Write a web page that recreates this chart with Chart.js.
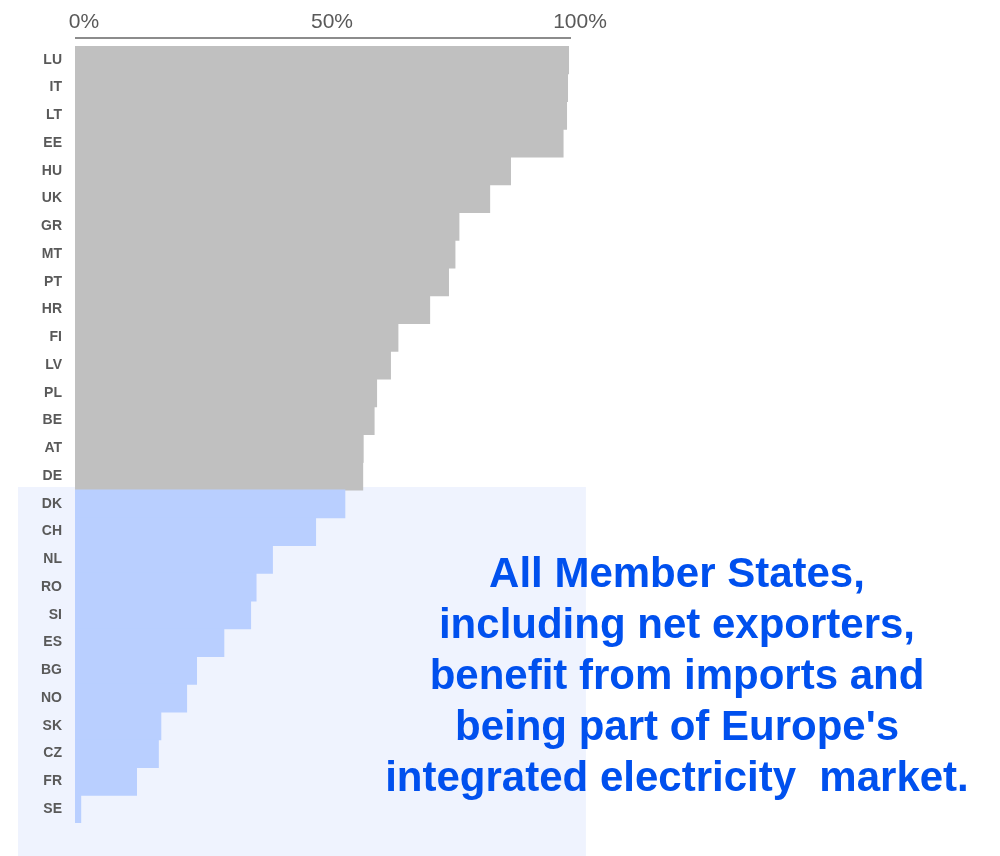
<!DOCTYPE html>
<html>
<head>
<meta charset="utf-8">
<script src="https://cdn.jsdelivr.net/npm/chart.js@4.4.0/dist/chart.umd.min.js"></script>
<style>
  body { margin: 0; background: #fff; }
  #wrap { position: relative; width: 1000px; height: 856px; }
  #note {
    position: absolute; left: 369px; top: 547px; width: 616px;
    text-align: center; white-space: pre;
    font: bold 42px "Liberation Sans", Arial, sans-serif;
    line-height: 51px; color: #0050ee;
  }
</style>
</head>
<body>
<div id="wrap">
  <canvas id="chart" width="1000" height="856"></canvas>
  <div id="note">All Member States,
including net exporters,
benefit from imports and
being part of Europe's
integrated electricity  market.</div>
</div>
<script>
// Share of imports per country (%)
const countries = ["LU", "IT", "LT", "EE", "HU", "UK", "GR", "MT", "PT", "HR", "FI", "LV", "PL", "BE",
  "AT", "DE", "DK", "CH", "NL", "RO", "SI", "ES", "BG", "NO", "SK", "CZ", "FR", "SE"];
const shares = [99.6, 99.4, 99.2, 98.5, 87.9, 83.7, 77.5, 76.7, 75.4, 71.6, 65.2, 63.7, 60.9, 60.4,
  58.2, 58.1, 54.5, 48.6, 39.9, 36.6, 35.5, 30.1, 24.6, 22.6, 17.4, 16.9, 12.5, 1.25];
const netExporters = ["DK", "CH", "NL", "RO", "SI", "ES", "BG", "NO", "SK", "CZ", "FR", "SE"];
const xTicks = [0, 50, 100];

const GRAY = "#c0c0c0";
const BLUE = "#b9cfff";

// light panel behind net exporters + axis line sitting above the bars
const backdrop = {
  id: "backdrop",
  beforeDraw(chart) {
    const { ctx, chartArea } = chart;
    const x = chart.scales.x, y = chart.scales.y;
    const first = countries.indexOf(netExporters[0]);
    const rowH = y.getPixelForValue(1) - y.getPixelForValue(0);
    const top = y.getPixelForValue(first) - rowH / 2 - 3;
    ctx.save();
    ctx.fillStyle = "#eff3fe";
    ctx.fillRect(18, top, x.getPixelForValue(103) - 18, chart.height - top);
    ctx.strokeStyle = "#8c8c8c";
    ctx.lineWidth = 2;
    ctx.beginPath();
    ctx.moveTo(x.getPixelForValue(0), chartArea.top - 8);
    ctx.lineTo(x.getPixelForValue(100), chartArea.top - 8);
    ctx.stroke();
    ctx.restore();
  }
};

new Chart(document.getElementById("chart").getContext("2d"), {
  type: "bar",
  data: {
    labels: countries,
    datasets: [{
      data: shares,
      backgroundColor: ctx => netExporters.includes(countries[ctx.dataIndex]) ? BLUE : GRAY,
      borderWidth: 0,
      barPercentage: 1.03, // slight overlap so rows join without seams
      categoryPercentage: 1
    }]
  },
  options: {
    indexAxis: "y",
    responsive: false,
    animation: false,
    devicePixelRatio: 1,
    layout: { padding: { left: 0, right: 429, top: 0, bottom: 33 } },
    plugins: { legend: { display: false }, tooltip: { enabled: false } },
    scales: {
      x: {
        position: "top",
        min: 0,
        max: 100,
        afterBuildTicks: s => { s.ticks = xTicks.map(v => ({ value: v })); },
        afterFit: s => { s.height = 46; },
        grid: { display: false },
        border: { display: false },
        ticks: {
          callback: v => v + "%",
          padding: 3,
          labelOffset: 9,
          maxRotation: 0,
          color: "#595959",
          font: { family: "Liberation Sans", size: 21 }
        }
      },
      y: {
        afterFit: s => { s.width = 75; },
        grid: { display: false },
        border: { display: false },
        ticks: {
          padding: 5,
          color: "#595959",
          font: { family: "Liberation Sans", size: 14, weight: "bold" }
        }
      }
    }
  },
  plugins: [backdrop]
});
</script>
</body>
</html>
